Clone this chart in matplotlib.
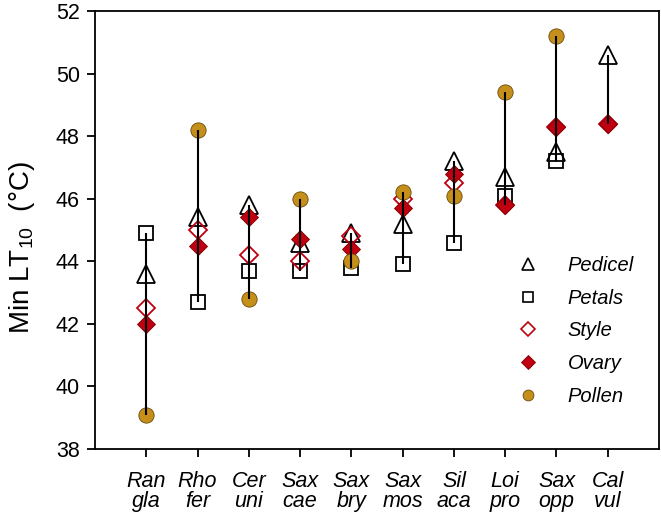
import numpy as np
import matplotlib
matplotlib.use('agg')
import matplotlib.pyplot as plt
from matplotlib.lines import Line2D

plt.rc('font', family='Liberation Sans')
plt.rc('mathtext', fontset='custom', rm='Liberation Sans', it='Liberation Sans:italic')

species = ['Ran\ngla', 'Rho\nfer', 'Cer\nuni', 'Sax\ncae', 'Sax\nbry',
           'Sax\nmos', 'Sil\naca', 'Loi\npro', 'Sax\nopp', 'Cal\nvul']
pedicel = [43.6, 45.4, 45.8, 44.6, 44.9, 45.2, 47.2, 46.7, 47.5, 50.6]
petals = [44.9, 42.7, 43.7, 43.7, 43.8, 43.9, 44.6, 46.1, 47.2, np.nan]
style = [42.5, 45.0, 44.2, 44.0, 44.8, 46.0, 46.5, 45.8, 48.3, 48.4]
ovary = [42.0, 44.5, 45.4, 44.7, 44.4, 45.7, 46.8, 45.8, 48.3, 48.4]
pollen = [39.1, 48.2, 42.8, 46.0, 44.0, 46.2, 46.1, 49.4, 51.2, np.nan]

gold = '#C58F1B'
red = '#C00010'

fig = plt.figure(figsize=(6.61, 5.18), dpi=100)
ax = fig.add_axes([0.1437, 0.1332, 0.8533, 0.8456])
x = np.arange(1, len(species) + 1)

allv = np.array([pedicel, petals, style, ovary, pollen])
lo = np.nanmin(allv, axis=0)
hi = np.nanmax(allv, axis=0)
ax.vlines(x, lo, hi, color='black', lw=1.5, zorder=10)

ax.plot(x, pedicel, ls='none', marker='^', ms=13, mfc='none', mec='black', mew=1.3, zorder=3)
ax.plot(x, petals, ls='none', marker='s', ms=9.5, mfc='none', mec='black', mew=1.3, zorder=4)
ax.plot(x, style, ls='none', marker='D', ms=9.5, mfc='none', mec=red, mew=1.3, zorder=5)
ax.plot(x, ovary, ls='none', marker='D', ms=9.5, mfc=red, mec='#7a0000', mew=0.6, zorder=6)
ax.plot(x, pollen, ls='none', marker='o', ms=11, mfc=gold, mec='#6b4a05', mew=0.6, zorder=7)

ax.set_xlim(0, 11)
ax.set_ylim(38, 52)
ax.set_yticks(range(38, 53, 2))
ax.set_xticks(x)
ax.set_xticklabels(species, fontstyle='italic', fontsize=15.5, linespacing=0.9)
ax.tick_params(axis='y', labelsize=15.5, direction='out', length=6, width=1.3, pad=5)
ax.tick_params(axis='x', direction='out', length=6, width=1.3, pad=10)
for s in ax.spines.values():
    s.set_linewidth(1.3)
ax.set_ylabel('Min LT$_{10}$  (°C)', fontsize=20)
ax.yaxis.set_label_coords(-0.103, 0.46)

handles = [
    Line2D([], [], ls='none', marker='^', ms=8.5, mfc='none', mec='black', mew=1.2),
    Line2D([], [], ls='none', marker='s', ms=6.5, mfc='none', mec='black', mew=1.2),
    Line2D([], [], ls='none', marker='D', ms=6.8, mfc='none', mec=red, mew=1.2),
    Line2D([], [], ls='none', marker='D', ms=6.8, mfc=red, mec='#7a0000', mew=0.6),
    Line2D([], [], ls='none', marker='o', ms=7.8, mfc=gold, mec='#6b4a05', mew=0.6),
]
labels = ['Pedicel', 'Petals', 'Style', 'Ovary', 'Pollen']
leg = fig.legend(handles, labels, loc='upper left', bbox_to_anchor=(0.761, 0.5255),
                 frameon=False, borderpad=0, handlelength=1.5, handletextpad=1.2,
                 labelspacing=0.68, prop={'style': 'italic', 'size': 14.5})

plt.savefig('out.png', dpi=100)
